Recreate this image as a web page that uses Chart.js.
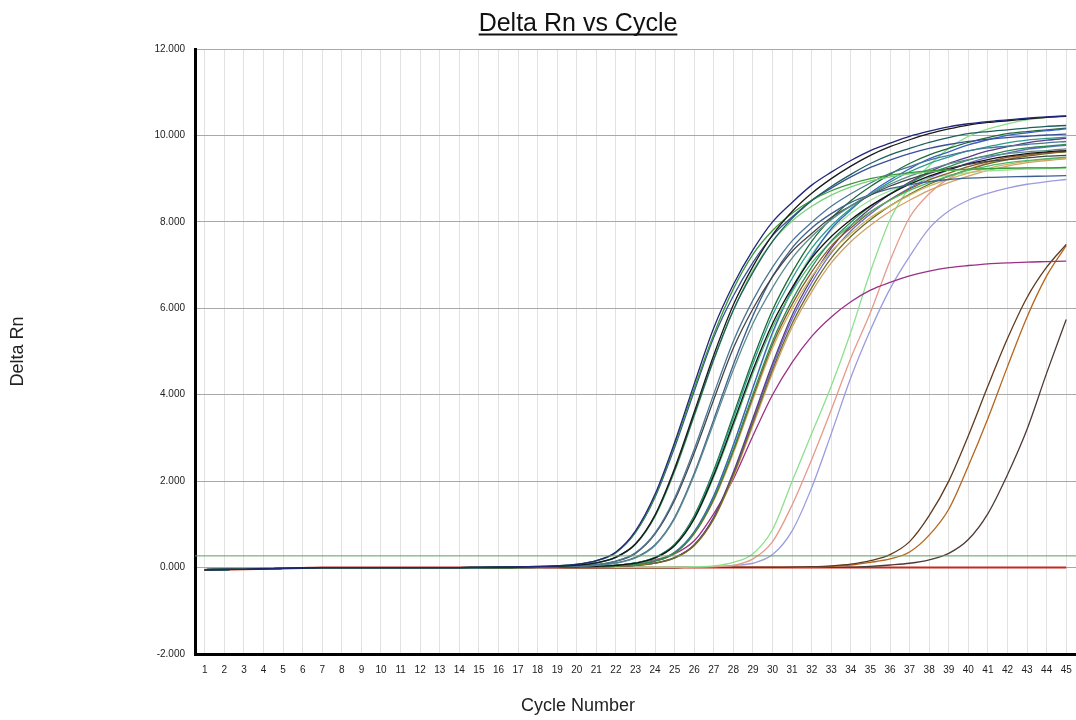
<!DOCTYPE html>
<html><head><meta charset="utf-8">
<script src="https://cdn.jsdelivr.net/npm/chart.js@4.4.1/dist/chart.umd.min.js"></script>
<style>html,body{margin:0;padding:0;background:#fff;}canvas{display:block;}</style>
</head><body>
<canvas id="c" width="1076" height="720"></canvas>
<script>
const chartTitle = 'Delta Rn vs Cycle';
const xTitle = 'Cycle Number';
const yTitle = 'Delta Rn';
const cycles = [1,2,3,4,5,6,7,8,9,10,11,12,13,14,15,16,17,18,19,20,21,22,23,24,25,26,27,28,29,30,31,32,33,34,35,36,37,38,39,40,41,42,43,44,45];
const yTicks = [-2,0,2,4,6,8,10,12];
const X_MIN = 0.5, X_MAX = 45.5;
const thresholdValue = 0.27;
// cycles 1-6 baseline (shared)
const lead = [-0.05,-0.045,-0.04,-0.03,-0.02,-0.01];
// cycles 7-45 per well
const s01 = [0,0,0,0,0,0,0,0,0.005,0.01,0.015,0.025,0.04,0.075,0.16,0.36,0.85,1.7,2.9,4.25,5.55,6.55,7.35,8.0,8.45,8.85,9.15,9.42,9.65,9.82,9.98,10.1,10.2,10.27,10.32,10.36,10.4,10.43,10.45];
const s02 = [0,0,0,0,0,0,0,0,0.004,0.007,0.012,0.02,0.032,0.055,0.11,0.24,0.55,1.22,2.3,3.6,4.92,6.08,6.97,7.7,8.24,8.66,9.0,9.29,9.54,9.74,9.9,10.04,10.15,10.24,10.3,10.34,10.38,10.42,10.44];
const s03 = [0,0,0,0,0,0,0,0,0.004,0.007,0.012,0.02,0.031,0.054,0.108,0.235,0.539,1.2,2.25,3.53,4.82,5.96,6.83,7.55,8.08,8.49,8.82,9.1,9.35,9.55,9.7,9.84,9.95,10.04,10.09,10.13,10.17,10.21,10.23];
const s04 = [0,0,0,0,0,0,0,0,0.005,0.01,0.015,0.025,0.04,0.075,0.16,0.35,0.82,1.65,2.85,4.15,5.4,6.45,7.25,7.8,8.2,8.5,8.72,8.88,9.0,9.08,9.14,9.18,9.2,9.22,9.23,9.24,9.25,9.25,9.26];
const s05 = [0,0,0,0,0,0,0,0,0.004,0.007,0.012,0.02,0.032,0.055,0.11,0.24,0.54,1.18,2.22,3.5,4.8,5.95,6.88,7.55,8.02,8.36,8.62,8.81,8.95,9.04,9.11,9.16,9.19,9.21,9.23,9.24,9.25,9.25,9.26];
const s06 = [0,0,0,0,0,0,0,0,0.005,0.01,0.014,0.024,0.038,0.072,0.154,0.346,0.816,1.63,2.78,4.08,5.33,6.29,7.06,7.68,8.11,8.5,8.78,9.04,9.26,9.43,9.58,9.7,9.79,9.86,9.91,9.95,9.98,10.01,10.03];
const s07 = [0,0,0,0,0,0,0,0,0,0.005,0.009,0.014,0.024,0.038,0.071,0.151,0.34,0.8,1.61,2.74,4.02,5.24,6.19,6.95,7.56,7.99,8.36,8.65,8.9,9.12,9.28,9.43,9.54,9.64,9.71,9.75,9.79,9.83,9.86];
const s08 = [0,0,0,0,0,0,0,0,0,0.004,0.007,0.011,0.019,0.03,0.051,0.102,0.223,0.512,1.13,2.14,3.35,4.58,5.65,6.48,7.16,7.66,8.05,8.37,8.64,8.87,9.06,9.21,9.34,9.44,9.52,9.58,9.62,9.65,9.69];
const s09 = [0,0,0,0,0,0,0,0,0,0.005,0.009,0.014,0.023,0.037,0.069,0.146,0.329,0.778,1.56,2.65,3.89,5.08,5.99,6.73,7.32,7.73,8.1,8.37,8.62,8.83,8.99,9.13,9.24,9.33,9.4,9.44,9.48,9.52,9.54];
const s10 = [0,0,0,0,0,0,0,0,0,0.004,0.007,0.012,0.02,0.031,0.054,0.108,0.235,0.529,1.16,2.18,3.43,4.7,5.83,6.74,7.4,7.86,8.19,8.45,8.63,8.77,8.86,8.93,8.98,9.01,9.03,9.04,9.05,9.06,9.07];
const s11 = [0,0,0,0,0,0,0,0,0,0,0.004,0.007,0.011,0.019,0.03,0.051,0.102,0.223,0.512,1.13,2.14,3.35,4.58,5.65,6.48,7.16,7.66,8.05,8.37,8.64,8.87,9.06,9.21,9.34,9.44,9.52,9.58,9.62,9.65];
const s12 = [0,0,0,0,0,0,0,0,0,0,0,0.005,0.009,0.014,0.024,0.038,0.071,0.151,0.34,0.8,1.61,2.74,4.02,5.24,6.19,6.95,7.56,7.99,8.36,8.65,8.9,9.12,9.28,9.43,9.54,9.64,9.71,9.75,9.79];
const s13 = [0,0,0,0,0,0,0,0,0,0,0.004,0.006,0.011,0.018,0.029,0.05,0.101,0.22,0.503,1.12,2.1,3.29,4.5,5.56,6.38,7.05,7.54,7.92,8.24,8.5,8.73,8.91,9.06,9.19,9.29,9.37,9.42,9.46,9.5];
const s14 = [0,0,0,0,0,0,0,0,0,0,0,0.005,0.009,0.014,0.023,0.037,0.07,0.149,0.335,0.79,1.58,2.7,3.95,5.16,6.09,6.84,7.44,7.86,8.23,8.51,8.76,8.97,9.13,9.28,9.39,9.49,9.55,9.6,9.63];
const s15 = [0,0,0,0,0,0,0,0,0,0,0,0.005,0.009,0.014,0.023,0.037,0.069,0.146,0.329,0.778,1.56,2.65,3.89,5.08,5.99,6.73,7.32,7.73,8.1,8.37,8.62,8.83,8.99,9.13,9.24,9.33,9.4,9.44,9.48];
const s16 = [0,0,0,0,0,0,0,0,0,0,0,0.004,0.007,0.011,0.019,0.03,0.051,0.102,0.223,0.512,1.13,2.14,3.35,4.58,5.65,6.48,7.16,7.66,8.05,8.37,8.64,8.87,9.06,9.21,9.34,9.44,9.52,9.58,9.62];
const s17 = [0,0,0,0,0,0,0,0,0,0,0.004,0.007,0.012,0.019,0.031,0.053,0.106,0.23,0.528,1.17,2.21,3.46,4.72,5.84,6.69,7.39,7.91,8.31,8.64,8.92,9.16,9.35,9.5,9.64,9.74,9.83,9.89,9.93,9.96];
const s18 = [0,0,0,0,0,0,0,0,0,0,0,0.005,0.01,0.015,0.025,0.04,0.074,0.157,0.353,0.833,1.67,2.84,4.17,5.44,6.42,7.2,7.84,8.28,8.67,8.97,9.23,9.46,9.62,9.78,9.9,10.0,10.06,10.11,10.15];
const s19 = [0,0,0,0,0,0,0,0,0,0,0,0.004,0.007,0.012,0.019,0.031,0.053,0.106,0.23,0.528,1.17,2.21,3.46,4.72,5.84,6.69,7.39,7.91,8.31,8.64,8.92,9.16,9.35,9.5,9.64,9.74,9.83,9.89,9.93];
const s20 = [0,0,0,0,0,0,0,0,0,0,0,0.005,0.01,0.015,0.025,0.04,0.075,0.16,0.35,0.82,1.65,2.85,4.15,5.4,6.45,7.25,7.8,8.2,8.5,8.72,8.88,9.0,9.08,9.14,9.18,9.2,9.22,9.23,9.24];
const s21 = [0,0,0,0,0,0,0,0,0,0,0.004,0.007,0.012,0.02,0.031,0.054,0.108,0.235,0.539,1.2,2.25,3.53,4.82,5.96,6.83,7.55,8.08,8.49,8.82,9.1,9.35,9.55,9.7,9.84,9.95,10.04,10.09,10.13,10.17];
const s22 = [0,0,0,0,0,0,0,0,0,0,0,0.004,0.006,0.011,0.018,0.029,0.05,0.101,0.22,0.503,1.12,2.1,3.29,4.5,5.56,6.38,7.05,7.54,7.92,8.24,8.5,8.73,8.91,9.06,9.19,9.29,9.37,9.42,9.46];
const s23 = [0,0,0,0,0,0,0,0,0,0,0,0.004,0.007,0.011,0.019,0.03,0.052,0.104,0.227,0.52,1.15,2.17,3.4,4.65,5.75,6.59,7.28,7.79,8.18,8.51,8.78,9.02,9.2,9.36,9.49,9.59,9.68,9.73,9.77];
const sMagenta = [0,0,0,0,0,0,0,0,0,0,0.005,0.01,0.015,0.02,0.03,0.05,0.1,0.18,0.32,0.62,1.25,2.05,3.05,4.0,4.75,5.35,5.8,6.15,6.42,6.6,6.75,6.86,6.94,6.99,7.03,7.05,7.07,7.08,7.09];
const sLightGreen = [0,0,0,0,0,0,0,0,0,0,0,0,0.005,0.005,0.005,0.005,0.01,0.01,0.01,0.02,0.04,0.12,0.32,0.88,2.0,3.1,4.2,5.45,6.85,8.05,8.8,9.3,9.7,9.98,10.15,10.27,10.36,10.42,10.46];
const sSalmon = [0,0,0,0,0,0,0,0,0,0,0,0,0,0.005,0.005,0.005,0.005,0.01,0.01,0.015,0.02,0.05,0.2,0.6,1.45,2.5,3.65,4.85,5.9,7.1,8.1,8.65,9.0,9.22,9.36,9.46,9.54,9.6,9.64];
const sViolet = [0,0,0,0,0,0,0,0,0,0,0,0,0,0.005,0.005,0.005,0.005,0.005,0.01,0.01,0.02,0.05,0.1,0.3,0.85,1.85,3.1,4.4,5.5,6.45,7.2,7.85,8.25,8.5,8.66,8.78,8.87,8.93,8.98];
const sLate1 = [0,0,0,0,0,0,0,0,0,0,0,0,0,0,0,0,0,0,0,0.005,0.005,0.005,0.005,0.005,0.01,0.02,0.04,0.08,0.16,0.3,0.6,1.2,2.0,3.05,4.2,5.3,6.25,6.95,7.48];
const sLate2 = [0,0,0,0,0,0,0,0,0,0,0,0,0,0,0,0,0,0,0,0.005,0.005,0.005,0.005,0.005,0.005,0.01,0.03,0.06,0.12,0.2,0.36,0.75,1.35,2.35,3.45,4.65,5.8,6.75,7.45];
const sLate3 = [0,0,0,0,0,0,0,0,0,0,0,0,0,0,0,0,0,0,0,0.005,0.005,0.005,0.005,0.005,0.005,0.005,0.005,0.01,0.03,0.06,0.1,0.18,0.33,0.65,1.25,2.15,3.2,4.5,5.74];
const sNTC = [0,0,0,0,0,0,0,0,0,0,0,0,0,0,0,0,0,0,0,0,0,0,0,0,0,0,0,0,0,0,0,0,0,0,0,0,0,0,0];

const wells = [s01,s02,s03,s04,s05,s06,s07,s08,s09,s10,s11,s12,s13,s14,s15,s16,s17,s18,s19,s20,s21,s22,s23,sMagenta,sLightGreen,sSalmon,sViolet,sLate1,sLate2,sLate3,sNTC];
const wellColors = ['#20267a','#1a1a1a','#1e5e5e','#3a9a3a','#7ccf7c','#3a4f9a','#4a7595','#5b8c8c','#444444','#3f5f8f','#111111','#2e8b57','#4cb86a','#8b5a2b','#c8b45a','#6b6b23','#2a9d8f','#3a5fc0','#5a3a8a','#9be39b','#1d6b35','#d2a06a','#6a6acd','#9c2f86','#8de08d','#e79a8a','#9b9be0','#5e3b1e','#b5651d','#4e3a36','#c8281e'];
const wellWidths = [1.3,1.3,1.3,1.3,1.3,1.3,1.3,1.3,1.3,1.3,1.3,1.3,1.3,1.3,1.3,1.3,1.3,1.3,1.3,1.3,1.3,1.3,1.3,1.3,1.3,1.3,1.3,1.3,1.3,1.3,2];

Chart.defaults.font.family = '"Liberation Sans", Arial, Helvetica, sans-serif';

const datasets = [{
  data: [{x: X_MIN, y: thresholdValue}, {x: X_MAX, y: thresholdValue}],
  borderColor: '#5d9e5d', borderWidth: 1, pointRadius: 0, tension: 0
}];
wells.forEach((w, k) => {
  const vals = lead.concat(w);
  datasets.push({
    data: vals.map((v, i) => ({x: cycles[i], y: v})),
    borderColor: wellColors[k], borderWidth: wellWidths[k], pointRadius: 0,
    cubicInterpolationMode: 'monotone', fill: false
  });
});

const titlePlugin = {
  id: 'pageTitles',
  afterDraw(chart) {
    const ctx = chart.ctx;
    const cx = 578;
    ctx.save();
    ctx.fillStyle = '#111';
    ctx.textAlign = 'center';
    ctx.textBaseline = 'alphabetic';
    ctx.font = '25px "Liberation Sans", Arial, sans-serif';
    ctx.fillText(chartTitle, cx, 31);
    const w = ctx.measureText(chartTitle).width;
    ctx.fillRect(cx - w / 2, 33.5, w, 2);
    ctx.font = '18px "Liberation Sans", Arial, sans-serif';
    ctx.textBaseline = 'middle';
    ctx.fillStyle = '#222';
    ctx.fillText(xTitle, cx, 706);
    ctx.restore();
  }
};

new Chart(document.getElementById('c'), {
  type: 'line',
  data: {datasets},
  plugins: [titlePlugin],
  options: {
    responsive: false, animation: false, devicePixelRatio: 1,
    layout: {padding: {top: 49, left: 0, right: 0, bottom: 0}},
    plugins: {legend: {display: false}, tooltip: {enabled: false}, title: {display: false}},
    scales: {
      x: {
        type: 'linear', min: X_MIN, max: X_MAX,
        afterBuildTicks: ax => { ax.ticks = cycles.map(v => ({value: v})); },
        afterFit: s => { s.height = 66; s.paddingLeft = 0; s.paddingRight = 0; },
        grid: {color: '#e2e2e2', lineWidth: 1, drawTicks: false},
        border: {color: '#000', width: 3},
        ticks: {autoSkip: false, maxRotation: 0, padding: 10, color: '#222', font: {size: 10}, callback: v => String(v)}
      },
      y: {
        type: 'linear', min: -2, max: 12,
        afterBuildTicks: ax => { ax.ticks = yTicks.map(v => ({value: v})); },
        afterFit: s => { s.width = 195; s.paddingTop = 0; s.paddingBottom = 0; },
        grid: {color: '#a8a8a8', lineWidth: 1, drawTicks: false},
        border: {color: '#000', width: 3},
        ticks: {padding: 10, color: '#222', font: {size: 10}, callback: v => Number(v).toFixed(3)},
        title: {display: true, text: yTitle, color: '#222', font: {size: 18}, padding: {top: 7, bottom: 4}}
      }
    }
  }
});
</script>
</body></html>
